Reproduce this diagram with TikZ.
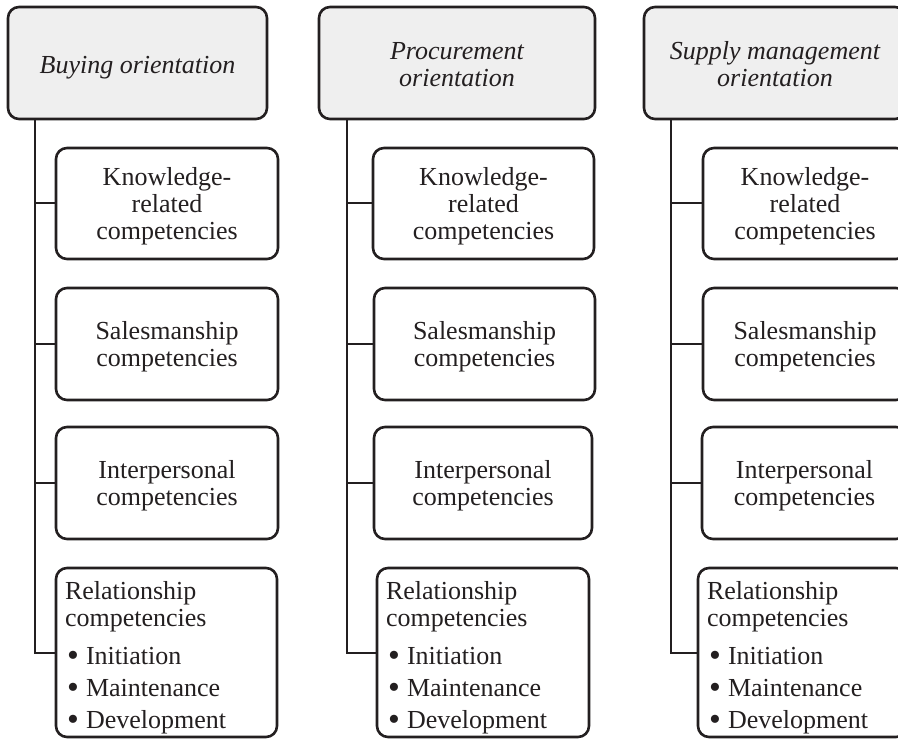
\documentclass[tikz,border=0pt]{standalone}
\usepackage{fontspec}
\setmainfont{Liberation Serif}
\definecolor{ink}{HTML}{231F20}
\definecolor{hdrfill}{HTML}{EFEFEF}
\newcommand{\bitem}[1]{\makebox[21pt][l]{\hspace{2pt}\raisebox{-2.5pt}{\scalebox{1.3}{\textbullet}}}#1}
\newcommand{\reltext}{Relationship\\competencies\\[11pt]\bitem{Initiation}\\[5pt]\bitem{Maintenance}\\[5pt]\bitem{Development}}
\newcommand{\ctext}[2][-3.5pt]{\raisebox{#1}[\height][\depth]{\begin{tabular}{@{}c@{}}#2\end{tabular}}}
\begin{document}
\begin{tikzpicture}[x=1pt,y=-1pt,
  box/.style={draw=ink, line width=2.6pt, rounded corners=11pt, inner sep=0pt,
    align=center, text=ink, font=\fontsize{26}{27}\selectfont},
  hdr/.style={box, fill=hdrfill, font=\fontsize{26}{27}\selectfont\itshape},
  relbox/.style={box, align=left, inner xsep=9pt,
    execute at begin node={\rule{0pt}{28pt}}},
  conn/.style={draw=ink, line width=2pt}]
\useasboundingbox (0,0) rectangle (898,741);
\clip (0,0) rectangle (898,741);
% column 1
\node[hdr, minimum width=259pt, minimum height=112pt] (h1) at (137.5,63) {\ctext[-5pt]{Buying orientation}};
\node[box, minimum width=222pt, minimum height=111pt] (k1) at (167,203.5) {\ctext{Knowledge-\\related\\competencies}};
\node[box, minimum width=222pt, minimum height=112pt] (s1) at (167,344) {\ctext{Salesmanship\\competencies}};
\node[box, minimum width=222pt, minimum height=112pt] (i1) at (167,483) {\ctext{Interpersonal\\competencies}};
\node[relbox, text width=203pt, minimum width=221pt, minimum height=169pt] (r1) at (166.5,652.5) {\reltext};
\coordinate (v1) at (35,0);
\draw[conn] (v1 |- h1.south) |- (r1.west);
\draw[conn] (k1.west) -- (k1.west -| v1);
\draw[conn] (s1.west) -- (s1.west -| v1);
\draw[conn] (i1.west) -- (i1.west -| v1);
% column 2
\node[hdr, minimum width=276pt, minimum height=112pt] (h2) at (457,63) {\ctext[-5pt]{Procurement\\orientation}};
\node[box, minimum width=221pt, minimum height=111pt] (k2) at (483.5,203.5) {\ctext{Knowledge-\\related\\competencies}};
\node[box, minimum width=221pt, minimum height=112pt] (s2) at (484.5,344) {\ctext{Salesmanship\\competencies}};
\node[box, minimum width=218pt, minimum height=112pt] (i2) at (483,483) {\ctext{Interpersonal\\competencies}};
\node[relbox, text width=194pt, minimum width=212pt, minimum height=169pt] (r2) at (483,652.5) {\reltext};
\coordinate (v2) at (347,0);
\draw[conn] (v2 |- h2.south) |- (r2.west);
\draw[conn] (k2.west) -- (k2.west -| v2);
\draw[conn] (s2.west) -- (s2.west -| v2);
\draw[conn] (i2.west) -- (i2.west -| v2);
% column 3
\node[hdr, minimum width=262pt, minimum height=112pt] (h3) at (775,63) {\ctext[-5pt]{Supply management\\orientation}};
\node[box, minimum width=204pt, minimum height=111pt] (k3) at (805,203.5) {\ctext{Knowledge-\\related\\competencies}};
\node[box, minimum width=204pt, minimum height=112pt] (s3) at (805,344) {\ctext{Salesmanship\\competencies}};
\node[box, minimum width=205pt, minimum height=112pt] (i3) at (804.5,483) {\ctext{Interpersonal\\competencies}};
\node[relbox, text width=191pt, minimum width=209pt, minimum height=169pt] (r3) at (802.5,652.5) {\reltext};
\coordinate (v3) at (671,0);
\draw[conn] (v3 |- h3.south) |- (r3.west);
\draw[conn] (k3.west) -- (k3.west -| v3);
\draw[conn] (s3.west) -- (s3.west -| v3);
\draw[conn] (i3.west) -- (i3.west -| v3);
\end{tikzpicture}
\end{document}
